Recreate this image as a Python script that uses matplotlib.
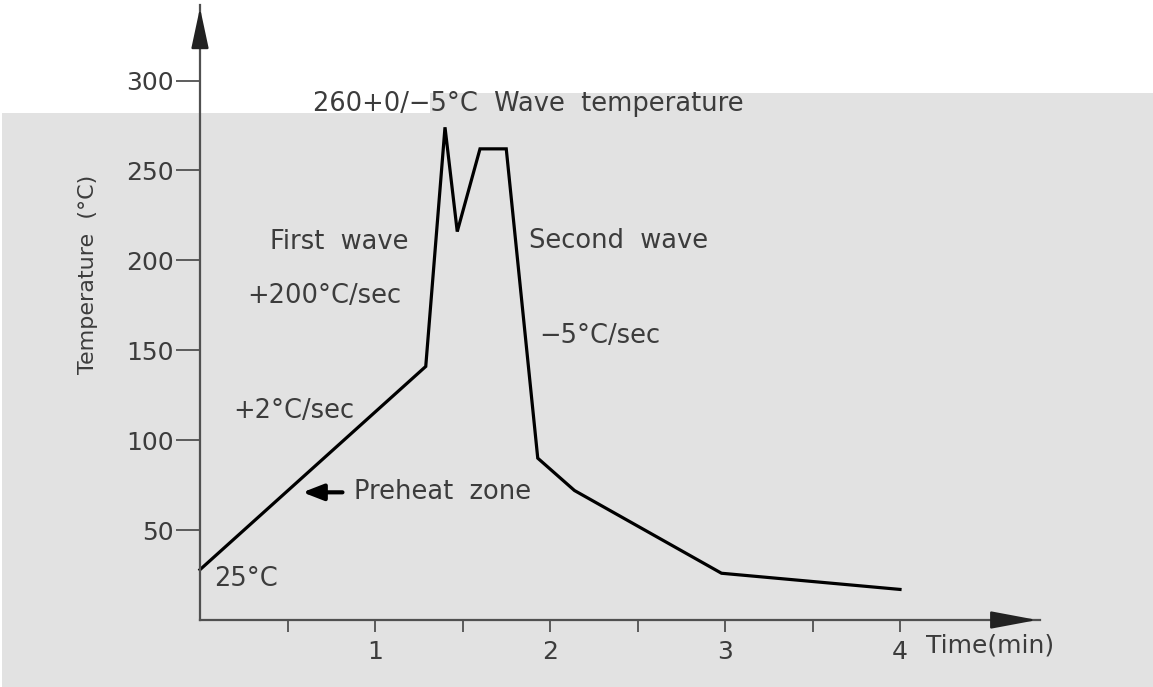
import matplotlib.pyplot as plt
from matplotlib.patches import Rectangle

# wave soldering profile
time_min = [0.0, 1.29, 1.40, 1.47, 1.60, 1.75, 1.93, 2.14, 2.98, 4.0]
temp_c = [28, 141, 274, 216, 262, 262, 90, 72, 26, 17]

yticks = [50, 100, 150, 200, 250, 300]
xticks = [1, 2, 3, 4]
xminor = [0.5, 1.5, 2.5, 3.5]

txt = '#3c3c3c'
fs = 18.5

fig = plt.figure(figsize=(11.53, 6.87), dpi=100)
fig.patch.set_facecolor('white')
W, H = 1153, 687
# grey backdrop (two pieces, like the scanned original)
fig.patches.append(Rectangle((2 / W, 0), 428 / W, (H - 113) / H, transform=fig.transFigure,
                             facecolor='#e2e2e2', edgecolor='none', zorder=-10))
fig.patches.append(Rectangle((430 / W, 0), (W - 430) / W, (H - 93) / H, transform=fig.transFigure,
                             facecolor='#e2e2e2', edgecolor='none', zorder=-10))

ax = fig.add_axes([200 / W, 67 / H, 840 / W, 615 / H])
ax.patch.set_alpha(0)
ax.set_xlim(0, 4.8)
ax.set_ylim(0, 342)
for s in ['top', 'right']:
    ax.spines[s].set_visible(False)
for s in ['left', 'bottom']:
    ax.spines[s].set_color('#505050')
    ax.spines[s].set_linewidth(1.6)

ax.set_yticks(yticks)
ax.set_xticks(xticks)
ax.set_xticks(xminor, minor=True)
ax.tick_params(axis='y', direction='out', length=17, width=1.3, color='#505050',
               labelsize=18, labelcolor=txt, pad=2)
ax.tick_params(axis='x', which='both', direction='out', length=8.5, width=1.3, color='#505050',
               labelsize=18, labelcolor=txt, pad=6)

# axis arrow heads
ax.annotate('', xy=(0, 342), xytext=(0, 320), xycoords='data',
            arrowprops=dict(arrowstyle='-|>,head_length=1.4,head_width=0.3', color='#222222',
                            lw=1.6, mutation_scale=18), annotation_clip=False)
ax.annotate('', xy=(4.8, 0), xytext=(4.55, 0), xycoords='data',
            arrowprops=dict(arrowstyle='-|>,head_length=1.6,head_width=0.3', color='#222222',
                            lw=1.6, mutation_scale=18), annotation_clip=False)

ax.plot(time_min, temp_c, color='black', lw=2.3, solid_joinstyle='miter', clip_on=False)

ax.text(-0.64, 192, 'Temperature  (°C)', fontsize=16, color=txt, rotation=90,
        ha='center', va='center', clip_on=False)
ax.text(4.15, -14, 'Time(min)', fontsize=18, color=txt, ha='left', va='center')

ax.text(0.645, 287, '260+0/−5°C  Wave  temperature', fontsize=fs, color=txt, ha='left', va='center')
ax.text(0.40, 210, 'First  wave', fontsize=fs, color=txt, ha='left', va='center')
ax.text(0.27, 180, '+200°C/sec', fontsize=fs, color=txt, ha='left', va='center')
ax.text(1.88, 211, 'Second  wave', fontsize=fs, color=txt, ha='left', va='center')
ax.text(1.94, 158, '−5°C/sec', fontsize=fs, color=txt, ha='left', va='center')
ax.text(0.19, 116, '+2°C/sec', fontsize=fs, color=txt, ha='left', va='center')
ax.text(0.88, 71, 'Preheat  zone', fontsize=fs, color=txt, ha='left', va='center')
ax.text(0.08, 23, '25°C', fontsize=fs, color=txt, ha='left', va='center')
ax.annotate('', xy=(0.57, 71), xytext=(0.83, 71),
            arrowprops=dict(arrowstyle='-|>,head_length=0.9,head_width=0.35', color='black',
                            lw=3, mutation_scale=14))

fig.savefig('out.png', dpi=100)
